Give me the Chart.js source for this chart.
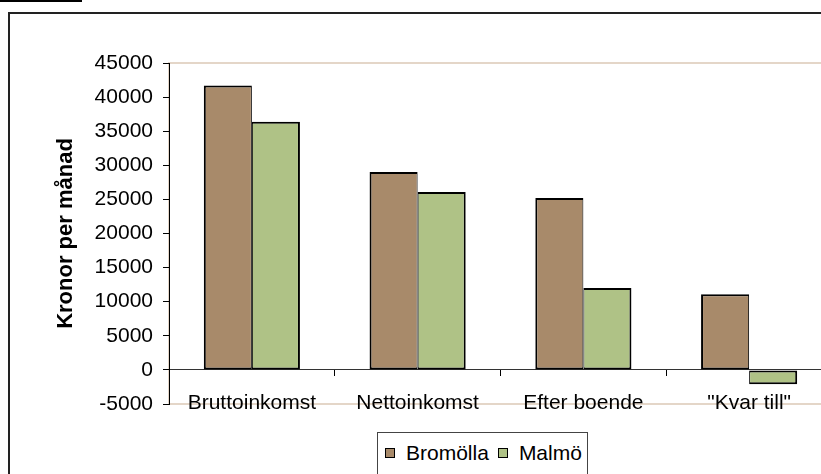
<!DOCTYPE html>
<html lang="sv">
<head>
<meta charset="UTF-8">
<title>Kronor per månad</title>
<script src="https://cdn.jsdelivr.net/npm/chart.js"></script>
<style>
  html, body { margin: 0; padding: 0; background: #fff; overflow: hidden; }
  body { width: 821px; height: 474px; position: relative; font-family: "Liberation Sans", Arial, sans-serif; }
  #underline { position: absolute; left: 0; top: 0; width: 82px; height: 2px; background: #000; }
  #frame { position: absolute; left: 8px; top: 12px; width: 900px; height: 600px; border-left: 2px solid #222; border-top: 2px solid #222; }
  #wrap { position: absolute; left: 0; top: 0; width: 840px; height: 474px; }
  #legend { position: absolute; left: 377px; top: 432px; width: 211px; height: 60px; border: 1px solid #444; background: #fff;
            display: flex; align-items: flex-start; padding-left: 7px; box-sizing: border-box; font-size: 21px; color: #000; }
  #legend .item { display: flex; align-items: center; height: 40px; margin-right: 9px; }
  #legend .sw { width: 8px; height: 8px; border: 1px solid #000; margin-right: 11px; }
</style>
</head>
<body>
<div id="underline"></div>
<div id="frame"></div>
<div id="wrap"><canvas id="chart"></canvas></div>
<div id="legend"></div>
<script>
  const categories = ['Bruttoinkomst', 'Nettoinkomst', 'Efter boende', '"Kvar till"'];
  const seriesNames = ['Bromölla', 'Malmö'];
  const bromolla = [41700, 29000, 25200, 11100];
  const malmo = [36400, 26100, 12000, -2100];
  const yMin = -5000;
  const yMax = 45000;
  const yStep = 5000;

  const colors = ['#a88a6a', '#afc286'];

  // light plot area frame like the Excel original
  const plotFrame = {
    id: 'plotFrame',
    beforeDraw(chart) {
      const { ctx, chartArea: a } = chart;
      ctx.save();
      ctx.strokeStyle = '#e4d6c8';
      ctx.lineWidth = 2;
      ctx.strokeRect(a.left, a.top, a.right - a.left, a.bottom - a.top);
      ctx.restore();
    }
  };

  new Chart(document.getElementById('chart'), {
    type: 'bar',
    data: {
      labels: categories,
      datasets: [
        {
          label: seriesNames[0],
          data: bromolla,
          backgroundColor: colors[0],
          borderColor: '#000',
          borderWidth: { top: 2, left: 2, right: 1, bottom: 2 },
          borderSkipped: false
        },
        {
          label: seriesNames[1],
          data: malmo,
          backgroundColor: colors[1],
          borderColor: '#000',
          borderWidth: { top: 2, left: 1, right: 2, bottom: 2 },
          borderSkipped: false
        }
      ]
    },
    options: {
      responsive: true,
      maintainAspectRatio: false,
      animation: false,
      categoryPercentage: 0.58,
      barPercentage: 1.0,
      layout: { padding: { top: 63, right: 8, bottom: 70, left: 0 } },
      plugins: {
        legend: { display: false },
        tooltip: { enabled: false }
      },
      scales: {
        x: {
          position: { y: 0 },
          offset: true,
          grid: { offset: true, drawOnChartArea: false, tickLength: 6, color: '#000' },
          border: { display: true, color: '#333', width: 1 },
          ticks: {
            color: '#000',
            font: { family: 'Liberation Sans', size: 21 },
            padding: 15,
            autoSkip: false,
            maxRotation: 0
          }
        },
        y: {
          min: yMin,
          max: yMax,
          ticks: {
            stepSize: yStep,
            color: '#000',
            font: { family: 'Liberation Sans', size: 21 },
            padding: 10,
            callback: v => String(v)
          },
          grid: { drawOnChartArea: false, tickLength: 6, color: '#000' },
          border: { color: '#000', width: 1 },
          title: {
            display: true,
            text: 'Kronor per månad',
            color: '#000',
            font: { family: 'Liberation Sans', size: 22, weight: 'bold' },
            padding: { top: 53, bottom: 0 }
          },
          afterFit(scale) { scale.width = 169; }
        }
      }
    },
    plugins: [plotFrame]
  });

  // legend in a framed box, built from the series
  const legend = document.getElementById('legend');
  seriesNames.forEach((name, i) => {
    const item = document.createElement('div');
    item.className = 'item';
    const sw = document.createElement('span');
    sw.className = 'sw';
    sw.style.background = colors[i];
    item.appendChild(sw);
    item.appendChild(document.createTextNode(name));
    legend.appendChild(item);
  });
</script>
</body>
</html>
